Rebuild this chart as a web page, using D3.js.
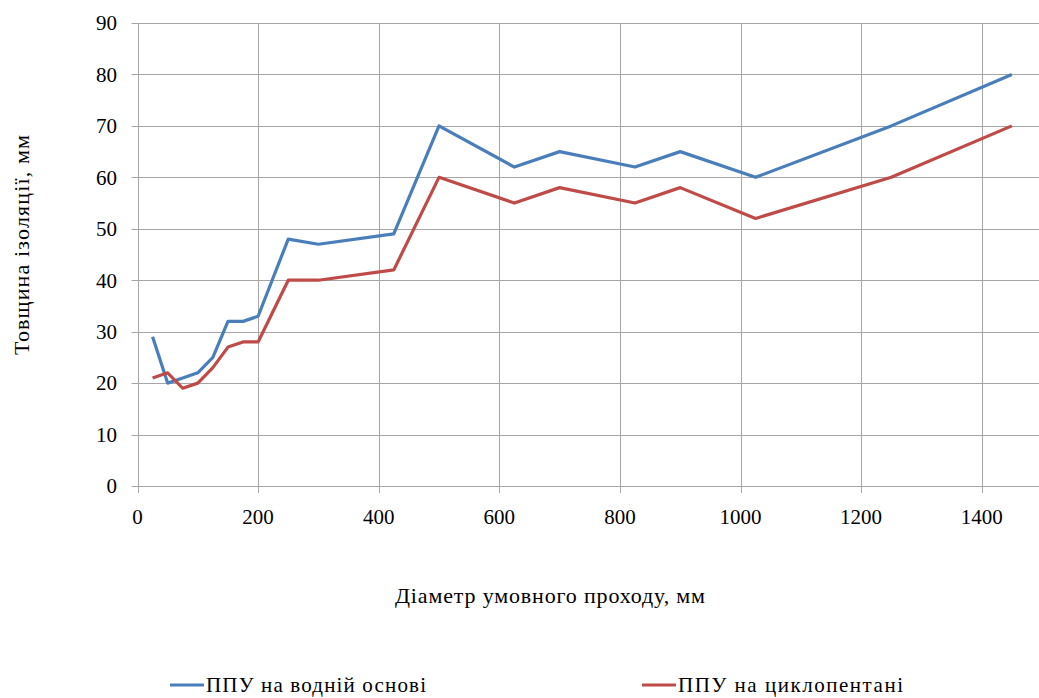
<!DOCTYPE html>
<html>
<head>
<meta charset="utf-8">
<script src="https://cdn.jsdelivr.net/npm/d3@7"></script>
<style>
  html, body { margin: 0; padding: 0; background: #fff; overflow: hidden; }
</style>
</head>
<body>
<svg id="chart" width="1039" height="698"></svg>
<script>
// Nominal pipe diameter, mm
const diameters = [25, 50, 75, 100, 125, 150, 175, 200, 250, 300, 425, 500, 625, 700, 825, 900, 1025, 1250, 1450];
// Insulation thickness, mm — water-blown PU foam
const waterBased = [29, 20, 21, 22, 25, 32, 32, 33, 48, 47, 49, 70, 62, 65, 62, 65, 60, 70, 80];
// Insulation thickness, mm — cyclopentane-blown PU foam
const cyclopentane = [21, 22, 19, 20, 23, 27, 28, 28, 40, 40, 42, 60, 55, 58, 55, 58, 52, 60, 70];

const xTicks = [0, 200, 400, 600, 800, 1000, 1200, 1400];
const yTicks = [0, 10, 20, 30, 40, 50, 60, 70, 80, 90];

const seriesNames = ["ППУ на водній основі", "ППУ на циклопентані"];
const seriesColors = ["#4a7ebb", "#be4b48"];

const FONT = "'Liberation Serif', Tinos, 'Times New Roman', 'Noto Serif', 'DejaVu Serif', serif";

const svg = d3.select("#chart");
const plotLeft = 137.5, plotRight = 1042, plotTop = 23, plotBottom = 486;

const x = d3.scaleLinear().domain([0, 1500]).range([plotLeft, plotRight]);
const y = d3.scaleLinear().domain([0, 90]).range([plotBottom, plotTop]);

const grid = svg.append("g");
// horizontal gridlines with short outer ticks
grid.selectAll("line.h").data(yTicks).join("line")
  .attr("x1", plotLeft - 6).attr("x2", plotRight)
  .attr("y1", d => Math.round(y(d)) + 0.5).attr("y2", d => Math.round(y(d)) + 0.5)
  .attr("stroke", "#a6a6a6").attr("stroke-width", 1);
// vertical gridlines with short outer ticks
grid.selectAll("line.v").data(xTicks).join("line")
  .attr("x1", d => Math.round(x(d)) + 0.5).attr("x2", d => Math.round(x(d)) + 0.5)
  .attr("y1", plotTop).attr("y2", plotBottom + 7)
  .attr("stroke", "#a6a6a6").attr("stroke-width", 1);

// y tick labels
svg.append("g").selectAll("text").data(yTicks).join("text")
  .attr("x", 117).attr("y", d => y(d))
  .attr("dy", "0.35em").attr("text-anchor", "end")
  .attr("font-family", FONT).attr("font-size", 21)
  .text(d => d);

// x tick labels
svg.append("g").selectAll("text").data(xTicks).join("text")
  .attr("x", d => x(d)).attr("y", 517)
  .attr("dy", "0.35em").attr("text-anchor", "middle")
  .attr("font-family", FONT).attr("font-size", 21)
  .text(d => d);

// axis titles
svg.append("text")
  .attr("transform", "translate(21,245) rotate(-90)")
  .attr("text-anchor", "middle").attr("dy", "0.35em")
  .attr("font-family", FONT).attr("font-size", 22)
  .attr("textLength", 220).attr("lengthAdjust", "spacing")
  .text("Товщина ізоляції, мм");
svg.append("text")
  .attr("x", 550).attr("y", 595)
  .attr("text-anchor", "middle").attr("dy", "0.35em")
  .attr("font-family", FONT).attr("font-size", 22)
  .attr("textLength", 310).attr("lengthAdjust", "spacing")
  .text("Діаметр умовного проходу, мм");

// series lines
const line = d3.line().x(d => x(d[0])).y(d => y(d[1]));
[waterBased, cyclopentane].forEach((vals, i) => {
  svg.append("path")
    .datum(diameters.map((d, j) => [d, vals[j]]))
    .attr("d", line)
    .attr("fill", "none")
    .attr("stroke", seriesColors[i])
    .attr("stroke-width", 3.2)
    .attr("stroke-linejoin", "round");
});

// legend
const legendX = [170, 642];
const legendLen = [220, 225];
const legendY = 685;
const legend = svg.append("g");
seriesNames.forEach((name, i) => {
  legend.append("line")
    .attr("x1", legendX[i]).attr("x2", legendX[i] + 34)
    .attr("y1", legendY).attr("y2", legendY)
    .attr("stroke", seriesColors[i]).attr("stroke-width", 3.2);
  legend.append("text")
    .attr("x", legendX[i] + 36).attr("y", legendY)
    .attr("dy", "0.35em")
    .attr("font-family", FONT).attr("font-size", 21)
    .attr("textLength", legendLen[i]).attr("lengthAdjust", "spacing")
    .text(name);
});
</script>
</body>
</html>
